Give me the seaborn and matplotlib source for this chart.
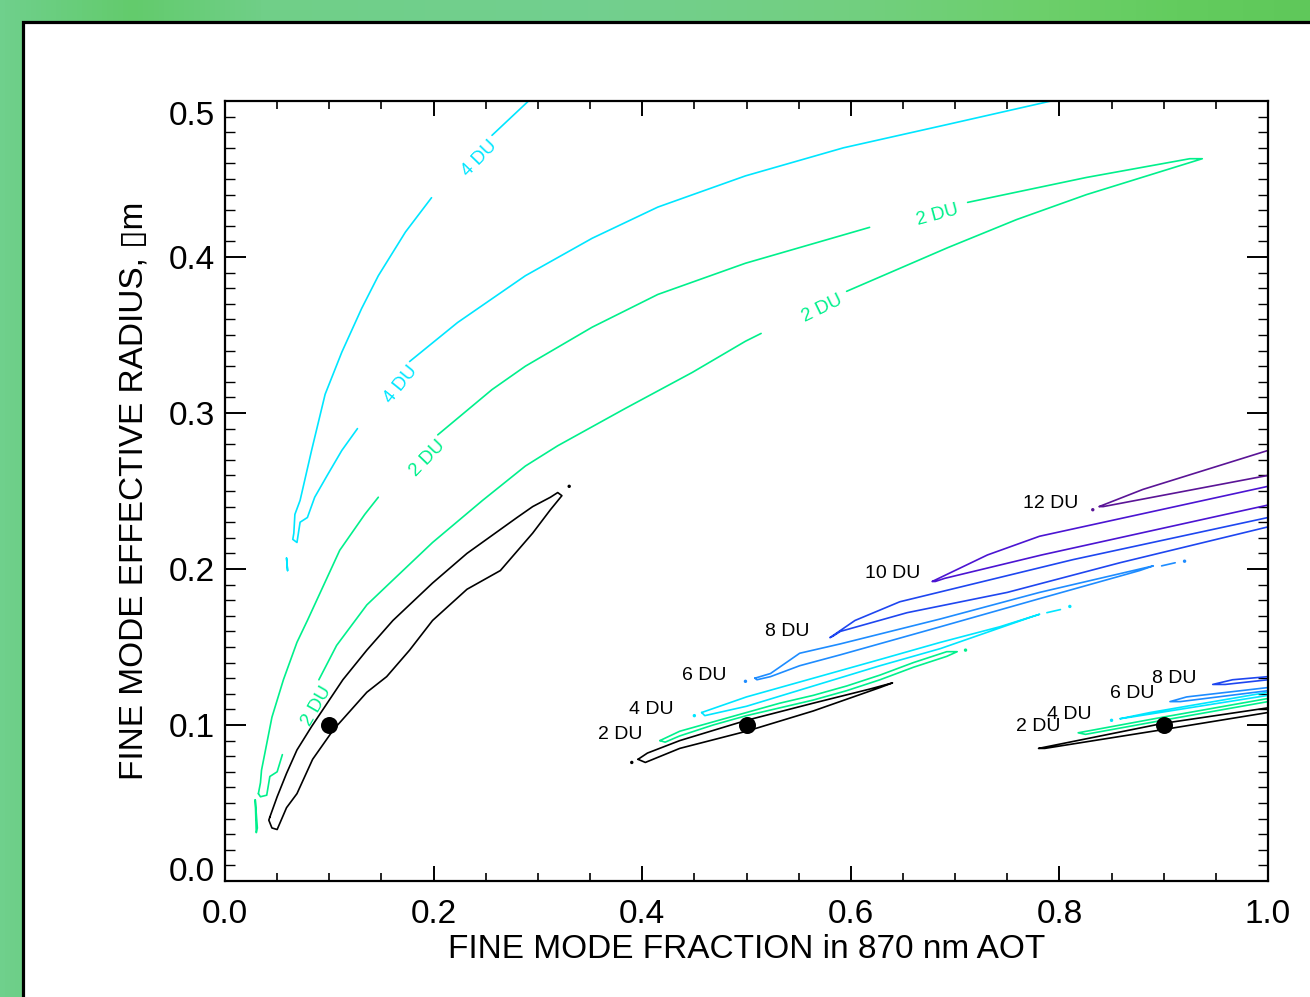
import numpy as np
import pandas as pd
import seaborn as sns
import matplotlib.pyplot as plt
from matplotlib.colors import LinearSegmentedColormap
from matplotlib.patches import Rectangle
from matplotlib.ticker import MultipleLocator, FormatStrFormatter

nan = np.nan

# colour of every contour level (black = innermost, unlabelled)
level_colors = {"1 DU": "#000000", "2 DU": "#00f08c", "4 DU": "#00e6ff",
                "6 DU": "#1e8cff", "8 DU": "#1e46f0", "10 DU": "#4b14d2",
                "12 DU": "#5a1496"}

# true (simulated) aerosol cases
true_fmf = [0.1, 0.5, 0.9]
true_reff = [0.1, 0.1, 0.1]

# ---- case FMF = 0.1 ----  (nan = gap left for a contour label)
c1_1du_x = [0.043, 0.050, 0.059, 0.069, 0.083, 0.113, 0.136, 0.161, 0.199, 0.232, 0.280, 0.295,
            0.312, 0.319, 0.323, 0.312, 0.295, 0.264, 0.232, 0.199, 0.177, 0.155, 0.136, 0.104,
            0.084, 0.069, 0.059, 0.050, 0.045, 0.042, 0.043]
c1_1du_y = [0.041, 0.054, 0.069, 0.084, 0.099, 0.129, 0.148, 0.167, 0.191, 0.210, 0.233, 0.240,
            0.246, 0.249, 0.247, 0.238, 0.223, 0.199, 0.187, 0.167, 0.148, 0.131, 0.121, 0.097,
            0.078, 0.056, 0.047, 0.033, 0.034, 0.039, 0.041]

c1_2du_x = [0.032, 0.034, 0.035, 0.040, 0.045, 0.056, 0.069, 0.079, 0.110, 0.134, 0.147, nan,
            0.204, 0.256, 0.288, 0.352, 0.415, 0.499, 0.618, nan,
            0.712, 0.826, 0.925, 0.937, 0.826, 0.759, 0.693, 0.596, nan,
            0.514, 0.499, 0.448, 0.384, 0.319, 0.288, 0.247, 0.199, 0.158, 0.136, 0.107, 0.090, nan,
            0.055, 0.050, 0.043, 0.040, 0.034, 0.032]
c1_2du_y = [0.056, 0.063, 0.071, 0.088, 0.105, 0.129, 0.153, 0.167, 0.212, 0.235, 0.246, nan,
            0.286, 0.315, 0.330, 0.355, 0.376, 0.396, 0.419, nan,
            0.435, 0.451, 0.463, 0.463, 0.440, 0.424, 0.406, 0.378, nan,
            0.351, 0.346, 0.326, 0.303, 0.279, 0.266, 0.244, 0.217, 0.191, 0.177, 0.151, 0.129, nan,
            0.081, 0.070, 0.067, 0.055, 0.054, 0.056]
c1_2du_bit_x = [0.029, 0.030, 0.031, 0.029]
c1_2du_bit_y = [0.052, 0.031, 0.034, 0.052]

c1_4du_x = [0.291, 0.256, nan,
            0.198, 0.173, 0.147, 0.131, 0.112, 0.096, 0.083, 0.072, 0.067, 0.066, 0.065, 0.069,
            0.072, 0.079, 0.086, 0.098, 0.112, 0.127, nan,
            0.177, 0.223, 0.288, 0.352, 0.415, 0.499, 0.593, 0.693, 0.792]
c1_4du_y = [0.500, 0.478, nan,
            0.438, 0.416, 0.388, 0.367, 0.339, 0.312, 0.276, 0.244, 0.235, 0.223, 0.219, 0.217,
            0.230, 0.233, 0.246, 0.260, 0.276, 0.290, nan,
            0.333, 0.358, 0.388, 0.412, 0.432, 0.452, 0.470, 0.485, 0.500]
c1_4du_bit_x = [0.059, 0.060, 0.059]
c1_4du_bit_y = [0.207, 0.199, 0.207]

# ---- case FMF = 0.5 ----
c2_1du_x = [0.396, 0.403, 0.436, 0.500, 0.564, 0.628, 0.640, 0.618, 0.564, 0.500, 0.436, 0.405, 0.396]
c2_1du_y = [0.078, 0.076, 0.085, 0.096, 0.109, 0.124, 0.127, 0.123, 0.114, 0.103, 0.090, 0.082, 0.078]
c2_2du_x = [0.417, 0.436, 0.468, 0.500, 0.532, 0.564, 0.596, 0.628, 0.660, 0.692, 0.702,
            0.692, 0.660, 0.628, 0.596, 0.564, 0.532, 0.500, 0.468, 0.436, 0.422, 0.417]
c2_2du_y = [0.090, 0.096, 0.102, 0.108, 0.114, 0.119, 0.125, 0.132, 0.140, 0.147, 0.147,
            0.144, 0.137, 0.129, 0.122, 0.116, 0.111, 0.106, 0.100, 0.093, 0.089, 0.090]
c2_4du_x = [0.457, 0.500, 0.564, 0.628, 0.686, 0.743, 0.781, 0.772, 0.686, 0.628, 0.564, 0.500, 0.460, 0.457,
            nan, 0.788, 0.801]
c2_4du_y = [0.108, 0.118, 0.130, 0.142, 0.153, 0.163, 0.171, 0.169, 0.149, 0.138, 0.125, 0.112, 0.106, 0.108,
            nan, 0.172, 0.174]
c2_6du_x = [0.508, 0.523, 0.551, 0.590, 0.686, 0.781, 0.890, 0.877, 0.781, 0.686, 0.590, 0.551, 0.523, 0.510, 0.508,
            nan, 0.898, 0.911]
c2_6du_y = [0.130, 0.133, 0.146, 0.152, 0.168, 0.185, 0.202, 0.199, 0.181, 0.163, 0.145, 0.138, 0.131, 0.129, 0.130,
            nan, 0.202, 0.204]
c2_8du_x = [1.0, 0.813, 0.647, 0.604, 0.580, 0.583, 0.590, 0.654, 0.750, 0.858, 1.0]
c2_8du_y = [0.233, 0.206, 0.179, 0.167, 0.156, 0.157, 0.160, 0.172, 0.185, 0.204, 0.227]
c2_10du_x = [1.0, 0.781, 0.731, 0.678, 0.681, 0.690, 0.783, 1.0]
c2_10du_y = [0.253, 0.221, 0.209, 0.192, 0.192, 0.194, 0.209, 0.241]
c2_12du_x = [1.0, 0.880, 0.838, 0.842, 1.0]
c2_12du_y = [0.276, 0.251, 0.240, 0.240, 0.260]

# ---- case FMF = 0.9 ----
c3_1du_x = [1.0, 0.899, 0.780, 0.786, 0.899, 1.0]
c3_1du_y = [0.111, 0.101, 0.085, 0.085, 0.097, 0.108]
c3_2du_x = [1.0, 0.899, 0.818, 0.825, 0.899, 1.0]
c3_2du_y = [0.117, 0.105, 0.095, 0.094, 0.103, 0.115]
c3_4du_x = [1.0, 0.887, 0.858, 0.868, 1.0]
c3_4du_y = [0.121, 0.108, 0.104, 0.105, 0.119]
c3_6du_x = [1.0, 0.922, 0.906, 0.916, 1.0]
c3_6du_y = [0.124, 0.118, 0.115, 0.115, 0.122]
c3_8du_x = [1.0, 0.966, 0.947, 0.959, 1.0]
c3_8du_y = [0.131, 0.129, 0.126, 0.126, 0.129]

# isolated one-cell contour specks
speck_x = [0.330, 0.390, 0.710, 0.450, 0.810, 0.499, 0.920, 0.832, 0.850]
speck_y = [0.253, 0.076, 0.148, 0.106, 0.176, 0.128, 0.205, 0.238, 0.103]
speck_level = ["1 DU", "1 DU", "2 DU", "4 DU", "4 DU", "6 DU", "6 DU", "12 DU", "4 DU"]

# contour labels
label_text = ["4 DU", "4 DU", "2 DU", "2 DU", "2 DU", "2 DU",
              "2 DU", "4 DU", "6 DU", "8 DU", "10 DU", "12 DU",
              "2 DU", "4 DU", "6 DU", "8 DU"]
label_x = [0.244, 0.169, 0.194, 0.683, 0.573, 0.088,
           0.379, 0.409, 0.459, 0.539, 0.640, 0.792,
           0.780, 0.809, 0.870, 0.910]
label_y = [0.463, 0.318, 0.271, 0.427, 0.367, 0.112,
           0.094, 0.110, 0.132, 0.160, 0.197, 0.242,
           0.099, 0.107, 0.120, 0.130]
label_rot = [46, 51, 46, 15, 26, 60, 0, 0, 0, 0, 0, 0, 0, 0, 0, 0]
label_color = ["4 DU", "4 DU", "2 DU", "2 DU", "2 DU", "2 DU"] + ["1 DU"] * 10

contours = [
    ("1 DU", c1_1du_x, c1_1du_y), ("2 DU", c1_2du_x, c1_2du_y),
    ("2 DU", c1_2du_bit_x, c1_2du_bit_y), ("4 DU", c1_4du_x, c1_4du_y),
    ("4 DU", c1_4du_bit_x, c1_4du_bit_y),
    ("1 DU", c2_1du_x, c2_1du_y), ("2 DU", c2_2du_x, c2_2du_y), ("4 DU", c2_4du_x, c2_4du_y),
    ("6 DU", c2_6du_x, c2_6du_y), ("8 DU", c2_8du_x, c2_8du_y), ("10 DU", c2_10du_x, c2_10du_y),
    ("12 DU", c2_12du_x, c2_12du_y),
    ("1 DU", c3_1du_x, c3_1du_y), ("2 DU", c3_2du_x, c3_2du_y), ("4 DU", c3_4du_x, c3_4du_y),
    ("6 DU", c3_6du_x, c3_6du_y), ("8 DU", c3_8du_x, c3_8du_y),
]

# split every contour at the label gaps into separate segments
rows = []
seg = 0
for level, xs, ys in contours:
    for x, y in zip(xs, ys):
        if np.isnan(x):
            seg += 1
            continue
        rows.append((level, seg, x, y))
    seg += 1
lines = pd.DataFrame(rows, columns=["level", "seg", "fmf", "reff"])
specks = pd.DataFrame({"fmf": speck_x, "reff": speck_y, "level": speck_level})

sns.set_theme(style="white")
plt.rcParams["font.family"] = ["Liberation Sans", "DejaVu Sans"]

fig = plt.figure(figsize=(13.1, 9.97), dpi=100)

# green frame with the white panel
frame_stops = [0.0, 0.1, 0.2, 0.45, 0.65, 0.8, 0.9, 1.0]
frame_colors = ["#6fd08c", "#63cb6c", "#70cf88", "#72d08f", "#72cf80", "#6ccf6a", "#63cc5e", "#5fc85a"]
bg = fig.add_axes([0, 0, 1, 1], zorder=-2)
frame_cmap = LinearSegmentedColormap.from_list("frame", list(zip(frame_stops, frame_colors)))
bg.imshow(np.linspace(0, 1, 256)[None, :], cmap=frame_cmap, aspect="auto", extent=[0, 1310, 0, 997])
bg.add_patch(Rectangle((22.5, -20), 1400, 997 - 22.5 + 20, facecolor="white", edgecolor="black", lw=2.3))
bg.set_xlim(0, 1310)
bg.set_ylim(0, 997)
bg.set_axis_off()

ax = fig.add_axes([225 / 1310, 116 / 997, 1043 / 1310, 780 / 997])
ax.set_facecolor("white")

sns.lineplot(data=lines, x="fmf", y="reff", hue="level", units="seg", estimator=None,
             sort=False, palette=level_colors, linewidth=1.2, legend=False, ax=ax)
sns.scatterplot(data=specks, x="fmf", y="reff", hue="level", palette=level_colors,
                s=6, linewidth=0, legend=False, ax=ax)
sns.scatterplot(x=true_fmf, y=true_reff, color="black", s=150, linewidth=0, ax=ax, zorder=5)

for t, x, y, r, c in zip(label_text, label_x, label_y, label_rot, label_color):
    ax.text(x, y, t, color=level_colors[c], fontsize=14 if r == 0 else 13.5, rotation=r,
            ha="center", va="center", rotation_mode="anchor")

ax.set_xlim(0, 1)
ax.set_ylim(0, 0.5)
ax.xaxis.set_major_locator(MultipleLocator(0.2))
ax.xaxis.set_minor_locator(MultipleLocator(0.05))
ax.yaxis.set_major_locator(MultipleLocator(0.1))
ax.yaxis.set_minor_locator(MultipleLocator(0.01))
ax.xaxis.set_major_formatter(FormatStrFormatter("%.1f"))
ax.yaxis.set_major_formatter(FormatStrFormatter("%.1f"))

ax.tick_params(which="both", direction="in", top=True, right=True, bottom=True, left=True, colors="black")
ax.tick_params(axis="x", which="major", length=11, width=1.4, pad=13, labelsize=24)
ax.tick_params(axis="x", which="minor", length=5.6, width=1.2)
ax.tick_params(axis="y", which="major", length=15, width=1.4, pad=7, labelsize=24)
ax.tick_params(axis="y", which="minor", length=7.5, width=1.0)
for s in ax.spines.values():
    s.set_visible(True)
    s.set_linewidth(1.6)
    s.set_color("black")

ax.set_xlabel("FINE MODE FRACTION in 870 nm AOT", fontsize=24, color="black")
ax.set_ylabel("FINE MODE EFFECTIVE RADIUS, \u25af" + "m", fontsize=24, color="black")
ax.xaxis.set_label_coords(0.5, -0.068)
ax.yaxis.set_label_coords(-0.072, 0.5)

# end labels of the y axis sit inside the frame, as in the original
fig.canvas.draw()
for lab in ax.get_yticklabels():
    if lab.get_text() == "0.0":
        lab.set_va("baseline")
    elif lab.get_text() == "0.5":
        lab.set_va("top")

fig.savefig("out.png", dpi=100)
